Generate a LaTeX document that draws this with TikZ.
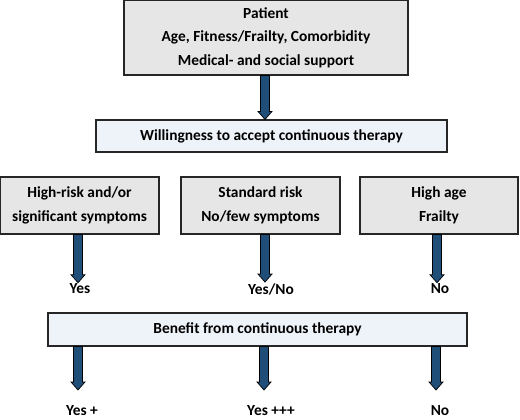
\documentclass[tikz,border=0pt]{standalone}
\usepackage{fontspec}
\setmainfont{Carlito}
\usetikzlibrary{positioning}
\usetikzlibrary{calc}
\definecolor{boxgray}{HTML}{E6E6E6}
\definecolor{boxblue}{HTML}{EEF3FA}
\definecolor{arrowblue}{HTML}{1F4E79}
\tikzset{
  graybox/.style={draw=black!85,line width=1.1pt,fill=boxgray,align=center,inner sep=0pt},
  bluebox/.style={draw=black!85,line width=1.1pt,fill=boxblue,align=center,inner sep=0pt},
  answer/.style={inner sep=1pt},
  fatarrow/.style={draw=black,line width=.7pt,fill=arrowblue,line join=miter}
}
\newcommand{\fatarrow}[2]{%
  \draw[fatarrow] let \p1=(#1), \p2=(#2) in
    (\x1-4.5pt,\y1) -- (\x1+4.5pt,\y1) -- (\x1+4.5pt,\y2+8pt) -- (\x1+7pt,\y2+8pt)
    -- (\x1,\y2) -- (\x1-7pt,\y2+8pt) -- (\x1-4.5pt,\y2+8pt) -- cycle;}

\begin{document}
\begin{tikzpicture}[x=1pt,y=-1pt,every node/.style={font=\fontsize{15.4}{23.5}\selectfont\bfseries}]
\useasboundingbox (0,0) rectangle (520,420);
% boxes
\node[graybox,minimum width=284pt,minimum height=75pt] (patient) at (266,37.5)
  {Patient\\Age, Fitness/Frailty, Comorbidity\\Medical- and social support};
\node[bluebox,minimum width=351pt,minimum height=32pt] (will) at (271.5,136)
  {Willingness to accept continuous therapy};
\node[graybox,minimum width=159pt,minimum height=57pt] (hr) at (79.5,205.5)
  {High-risk and/or\\significant symptoms};
\node[graybox,minimum width=159pt,minimum height=57pt] (std) at (260.5,205.5)
  {Standard risk\\No/few symptoms};
\node[graybox,minimum width=158pt,minimum height=57pt] (old) at (439,205.5)
  {High age\\Frailty};
\node[bluebox,minimum width=419pt,minimum height=33pt] (benefit) at (257.5,329.5)
  {Benefit from continuous therapy};
% answers
\node[answer] (yes) at (80,289) {Yes};
\node[answer] (yesno) at (271,289) {Yes/No};
\node[answer] (no) at (440,289) {No};
\node[answer] (yesp) at (82,411) {Yes +};
\node[answer] (yesppp) at (271,411) {Yes +++};
\node[answer] (noben) at (440,411) {No};
% arrow ends
\coordinate (p1) at ([xshift=-1pt]patient.south);
\coordinate (h1) at (78,0);
\coordinate (s1) at (265,0);
\coordinate (o1) at (437,0);
\fatarrow{p1}{p1 |- will.north}
\fatarrow{h1 |- hr.south}{h1 |- yes.north}
\fatarrow{s1 |- std.south}{s1 |- yesno.north}
\fatarrow{o1 |- old.south}{o1 |- no.north}
\coordinate (bl) at (78,390);
\coordinate (bm) at (264,390);
\coordinate (br) at (436,390);
\fatarrow{bl |- benefit.south}{bl}
\fatarrow{bm |- benefit.south}{bm}
\fatarrow{br |- benefit.south}{br}
\end{tikzpicture}
\end{document}
